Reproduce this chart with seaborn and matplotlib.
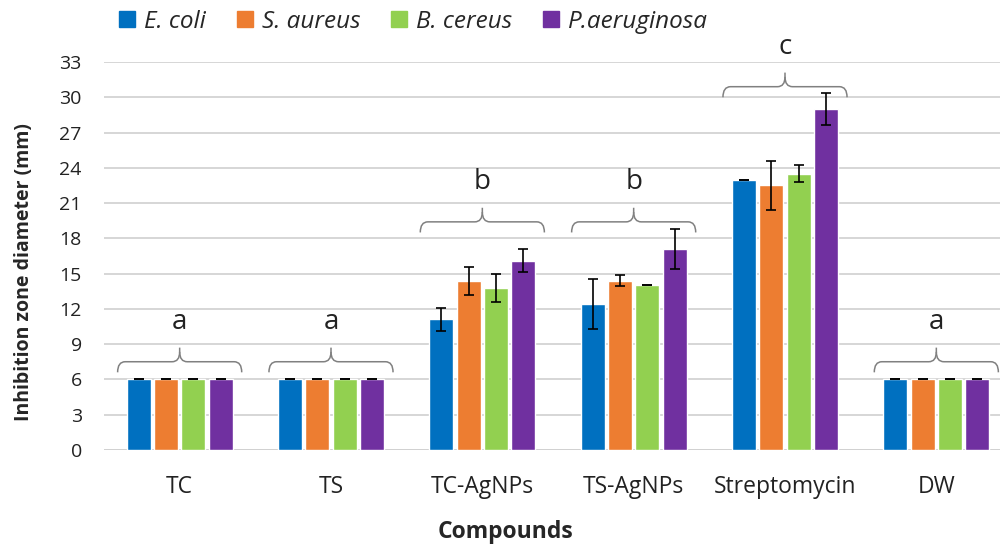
import numpy as np
import pandas as pd
import matplotlib
matplotlib.use("Agg")
import matplotlib.pyplot as plt
import seaborn as sns
from matplotlib.path import Path
from matplotlib.patches import PathPatch
from matplotlib.lines import Line2D

compounds = ["TC", "TS", "TC-AgNPs", "TS-AgNPs", "Streptomycin", "DW"]
strains = ["E. coli", "S. aureus", "B. cereus", "P.aeruginosa"]

# mean inhibition zone (mm), one list per strain
ecoli = [6, 6, 11.1, 12.4, 23.0, 6]
saureus = [6, 6, 14.4, 14.4, 22.5, 6]
bcereus = [6, 6, 13.8, 14.0, 23.5, 6]
paerug = [6, 6, 16.1, 17.1, 29.0, 6]

# standard deviations
ecoli_err = [0, 0, 1.0, 2.1, 0, 0]
saureus_err = [0, 0, 1.2, 0.45, 2.1, 0]
bcereus_err = [0, 0, 1.2, 0, 0.7, 0]
paerug_err = [0, 0, 1.0, 1.7, 1.4, 0]

letters = ["a", "a", "b", "b", "c", "a"]
brace_base = [6.6, 6.6, 18.5, 18.5, 30.0, 6.6]

colors = ["#0070C0", "#ED7D31", "#92D050", "#7030A0"]

values = [ecoli, saureus, bcereus, paerug]
errors = [ecoli_err, saureus_err, bcereus_err, paerug_err]

rows = []
for s, vals in zip(strains, values):
    for c, v in zip(compounds, vals):
        rows.append({"compound": c, "strain": s, "value": v})
df = pd.DataFrame(rows)

sns.set_style("white")
plt.rcParams["font.family"] = ["Open Sans", "DejaVu Sans"]

fig = plt.figure(figsize=(10, 5.44), dpi=100)
ax = fig.add_axes([0.104, 0.173, 0.908, 0.713])

sns.barplot(data=df, x="compound", y="value", hue="strain", order=compounds,
            hue_order=strains, palette=colors, width=0.72, gap=0.12,
            saturation=1, errorbar=None, legend=False, ax=ax, zorder=3)

# error bars on top of each bar
for cont, err in zip(ax.containers, errors):
    xs = [p.get_x() + p.get_width() / 2 for p in cont]
    ys = [p.get_height() for p in cont]
    ax.errorbar(xs, ys, yerr=err, fmt="none", ecolor="black", elinewidth=1.2,
                capsize=3.5, capthick=1.2, zorder=4)


def brace(ax, xc, y0, w=0.41, h1=0.9, h2=1.2, r=0.05):
    y1 = y0 + h1
    y2 = y1 + h2
    verts = [(xc - w, y0), (xc - w, y1), (xc - w + r, y1),
             (xc - r, y1),
             (xc, y1), (xc, y2 - h2 * 0.3), (xc, y2)]
    codes = [Path.MOVETO, Path.CURVE3, Path.CURVE3, Path.LINETO,
             Path.CURVE3, Path.CURVE3, Path.LINETO]
    verts2 = [(xc, y2 - h2 * 0.3), (xc, y1), (xc + r, y1),
              (xc + w - r, y1), (xc + w, y1), (xc + w, y0)]
    codes2 = [Path.MOVETO, Path.CURVE3, Path.CURVE3, Path.LINETO,
              Path.CURVE3, Path.CURVE3]
    for v, c in [(verts, codes), (verts2, codes2)]:
        ax.add_patch(PathPatch(Path(v, c), fill=False, edgecolor="#808080",
                               lw=1.1, zorder=5, clip_on=False))
    return y2


for i, (lab, base) in enumerate(zip(letters, brace_base)):
    top = brace(ax, i, base)
    ax.text(i, top + 1.0, lab, ha="center", va="bottom", fontsize=20,
            color="#222222", clip_on=False)

ax.set_ylim(0, 33)
ax.set_yticks(np.arange(0, 34, 3))
ax.set_xlim(-0.5, 5.5)
ax.yaxis.grid(True, color="#D0D0D0", lw=1.2, zorder=0)
ax.set_axisbelow(True)
for sp in ax.spines.values():
    sp.set_visible(False)
ax.axhline(0, color="#D0D0D0", lw=1.2, zorder=1)
ax.tick_params(axis="both", length=0, colors="#222222")
ax.tick_params(axis="y", labelsize=14, pad=16)
ax.tick_params(axis="x", labelsize=16.5, pad=18)
ax.set_xlabel("Compounds", fontsize=16.5, fontweight="bold")
ax.set_ylabel("Inhibition zone diameter (mm)", fontsize=14, fontweight="bold")
# titles are centred on the whole figure, not the plot area
ax.xaxis.set_label_coords(0.442, -0.18)
ax.yaxis.set_label_coords(-0.077, 0.459)

handles = [Line2D([], [], marker="s", ls="none", markersize=11,
                  markerfacecolor=c, markeredgecolor=c) for c in colors]
leg = fig.legend(handles, strains, loc="center left", bbox_to_anchor=(0.093, 0.96),
                 ncol=4, frameon=False, fontsize=17.5, handletextpad=0.2,
                 columnspacing=1.1, handlelength=1.0)
for t in leg.get_texts():
    t.set_fontstyle("italic")

fig.savefig("out.png", dpi=100)
